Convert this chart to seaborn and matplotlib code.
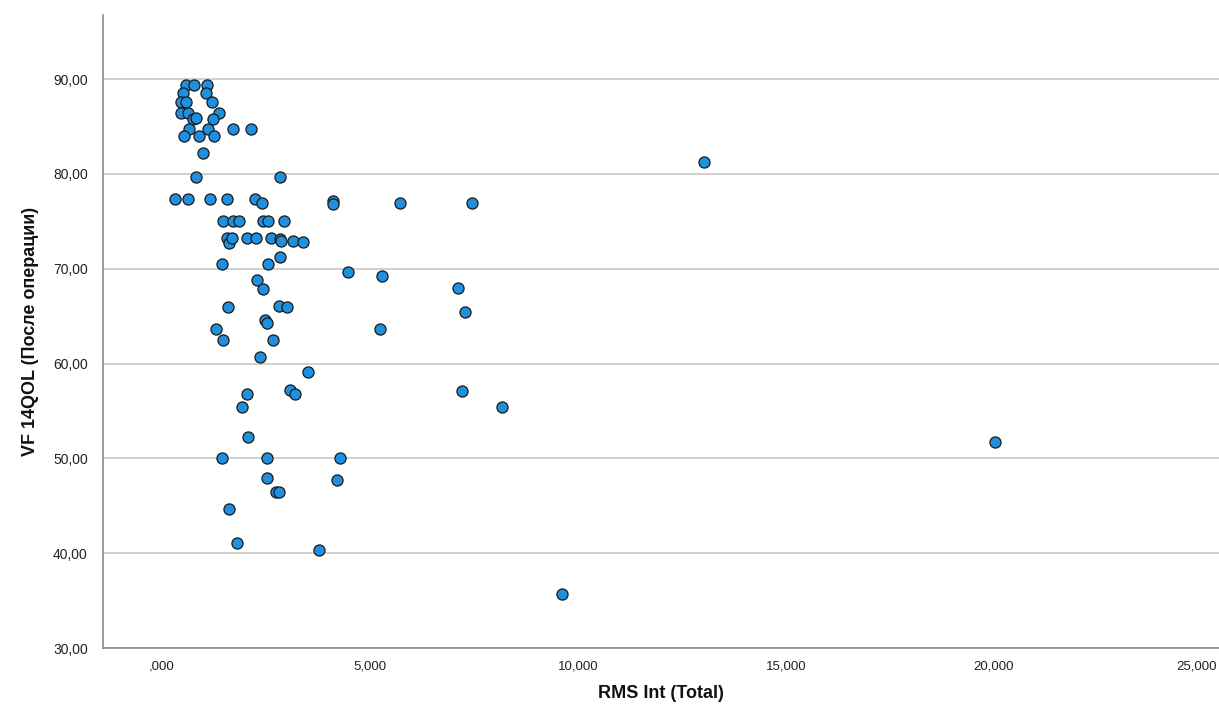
import matplotlib
matplotlib.use('Agg')
import matplotlib.pyplot as plt
import matplotlib.transforms as mtransforms
import seaborn as sns
import pandas as pd
from matplotlib.ticker import FuncFormatter, MultipleLocator

# RMS Int (Total) values
rms_int = [
    0.58, 0.77, 1.08, 0.50, 1.05, 0.45, 0.58, 1.20, 0.46, 0.63,
    1.36, 0.75, 0.82, 1.23, 0.66, 1.11, 1.71, 2.13, 0.54, 0.89,
    1.24, 0.99, 0.81, 2.84, 0.31, 0.63, 1.15, 1.56, 2.24, 2.41,
    4.12, 4.12, 1.46, 1.71, 1.86, 2.44, 2.56, 2.93, 1.56, 1.62,
    1.68, 2.05, 2.25, 2.62, 2.84, 2.86, 3.16, 3.38, 1.44, 2.54,
    2.84, 4.48, 2.29, 2.44, 1.58, 2.81, 3.00, 2.48, 2.52, 5.23,
    1.29, 1.47, 2.68, 2.36, 3.50, 2.04, 3.08, 3.20, 1.92, 2.06,
    1.44, 2.52, 4.28, 2.52, 4.20, 2.74, 2.82, 1.62, 1.80, 3.78,
    5.72, 7.45, 7.12, 7.28, 7.22, 8.17, 9.61, 13.03, 20.03, 5.30,
]

# VF 14QOL after surgery
vf14_post = [
    89.37, 89.37, 89.37, 88.49, 88.49, 87.54, 87.54, 87.54, 86.45, 86.45,
    86.45, 85.75, 85.89, 85.75, 84.70, 84.70, 84.70, 84.70, 84.02, 84.02,
    84.02, 82.23, 79.63, 79.63, 77.31, 77.31, 77.31, 77.31, 77.31, 76.89,
    77.17, 76.82, 75.03, 75.03, 75.03, 75.03, 75.03, 75.03, 73.26, 72.74,
    73.26, 73.26, 73.26, 73.26, 73.13, 72.92, 72.95, 72.78, 70.49, 70.49,
    71.20, 69.68, 68.80, 67.86, 65.96, 66.09, 65.93, 64.59, 64.30, 63.64,
    63.64, 62.48, 62.48, 60.72, 59.10, 56.81, 57.17, 56.78, 55.38, 52.28,
    50.00, 50.00, 50.00, 47.89, 47.72, 46.42, 46.42, 44.62, 41.04, 40.33,
    76.89, 76.89, 67.93, 65.40, 57.13, 55.38, 35.66, 81.28, 51.69, 69.26,
]

df = pd.DataFrame({'RMS Int (Total)': rms_int, 'VF 14QOL (После операции)': vf14_post})

sns.set_style('white')
plt.rcParams['font.family'] = ['Liberation Sans', 'DejaVu Sans']

fig = plt.figure(figsize=(12.19, 7.22), dpi=100)
ax = fig.add_axes([103 / 1219, 74 / 722, 1116 / 1219, 633 / 722])

sns.scatterplot(data=df, x='RMS Int (Total)', y='VF 14QOL (После операции)', ax=ax,
                s=64, color='#1f8fdf', edgecolor='#1a1a1a', linewidth=0.9, zorder=3)

ax.set_xlim(-1.418, 25.41)
ax.set_ylim(30, 96.75)
ax.xaxis.set_major_locator(MultipleLocator(5))
ax.yaxis.set_major_locator(MultipleLocator(10))


def fmt_x(v, pos):
    s = f'{v:.3f}'.replace('.', ',')
    return s[1:] if s.startswith('0,') else s


ax.xaxis.set_major_formatter(FuncFormatter(fmt_x))
ax.yaxis.set_major_formatter(FuncFormatter(lambda v, p: f'{v:.2f}'.replace('.', ',')))

# horizontal grid lines only
ax.yaxis.grid(True, color='#d0d0d0', linewidth=1.4, zorder=0)
ax.xaxis.grid(False)
ax.set_axisbelow(True)

for side in ['top', 'right']:
    ax.spines[side].set_visible(False)
for side in ['left', 'bottom']:
    ax.spines[side].set_color('#8a8a8a')
    ax.spines[side].set_linewidth(1.2)

ax.tick_params(axis='both', length=0, colors='#222222')
ax.tick_params(axis='y', pad=11, labelsize=10)
ax.tick_params(axis='x', pad=9, labelsize=9.5)

ax.set_xlabel('RMS Int (Total)', fontsize=13, fontweight='bold', color='#111111', labelpad=9)
ax.set_ylabel('VF 14QOL (После операции)', fontsize=13, fontweight='bold', color='#111111', labelpad=10)

# nudge the last x tick label so it stays inside the figure
fig.canvas.draw()
last = [t for t in ax.get_xticklabels() if t.get_text() == '25,000']
for t in last:
    t.set_transform(t.get_transform() + mtransforms.ScaledTranslation(-4 / 72, 0, fig.dpi_scale_trans))

fig.savefig('out.png', dpi=100)
